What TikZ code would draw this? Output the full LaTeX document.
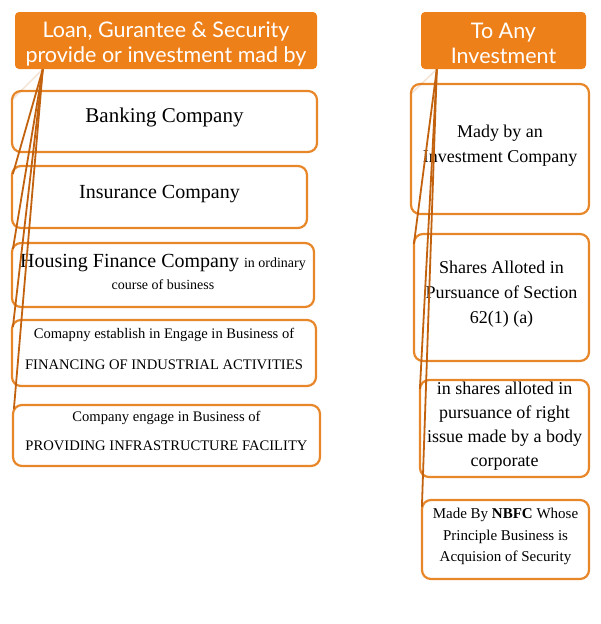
\documentclass[tikz,border=0pt]{standalone}
\usepackage{fontspec}
\setmainfont{Liberation Serif}
\newfontfamily\headfont{Lato}
\usetikzlibrary{calc}
\definecolor{hdr}{HTML}{EE8019}
\definecolor{bord}{HTML}{E8862A}
\definecolor{conn}{HTML}{C2620E}
\newcommand\lowstrut[1]{\rule[-#1]{0pt}{#1}}
\newcommand\highstrut[1]{\rule{0pt}{#1}}
\begin{document}
\begin{tikzpicture}[x=1pt,y=-1pt,
  hdrbox/.style={fill=hdr, rounded corners=4pt, text=white, font=\headfont\fontsize{21.5}{25}\selectfont, align=center, inner sep=0pt},
  itembox/.style={draw=bord, line width=2.2pt, rounded corners=9pt, fill=white, align=center, inner sep=0pt},
  conn/.style={draw=conn, line width=1.8pt},
  faint/.style={draw=conn, line width=1.5pt, opacity=0.18}]
\useasboundingbox (0,0) rectangle (600,624);

% left column
\node[hdrbox, minimum width=302pt, minimum height=57pt] (h1) at (166,40.5)
  {\highstrut{22pt}Loan, Gurantee \& Security\\provide or investment mad by};
\node[itembox, minimum width=305pt, minimum height=61pt, font=\fontsize{21}{25}\selectfont] (b1) at (164.5,121.5)
  {Banking Company\lowstrut{12pt}};
\node[itembox, minimum width=295pt, minimum height=62pt, font=\fontsize{20}{24}\selectfont] (b2) at (159.5,197)
  {Insurance Company\lowstrut{10pt}};
\node[itembox, minimum width=302pt, minimum height=64pt, font=\fontsize{20}{24}\selectfont] (b3) at (163,275)
  {Housing Finance Company {\fontsize{14}{17}\selectfont in ordinary}\\[-2pt]{\fontsize{14}{17}\selectfont course of business}\lowstrut{7pt}};
\node[itembox, minimum width=304pt, minimum height=66pt, font=\fontsize{14.6}{31}\selectfont] (b4) at (164,353)
  {Comapny establish in Engage in Business of\\FINANCING OF INDUSTRIAL ACTIVITIES\lowstrut{8pt}};
\node[itembox, minimum width=307pt, minimum height=61pt, font=\fontsize{14.6}{29}\selectfont] (b5) at (166.5,435.5)
  {Company engage in Business of\\PROVIDING INFRASTRUCTURE FACILITY\lowstrut{9pt}};

% right column
\node[hdrbox, minimum width=165pt, minimum height=57pt] (h2) at (503.5,40.5)
  {\highstrut{22pt}To Any\\Investment};
\node[itembox, minimum width=178pt, minimum height=130pt, font=\fontsize{18}{25}\selectfont] (r1) at (500,149)
  {Mady by an\\Investment Company\lowstrut{10pt}};
\node[itembox, minimum width=175pt, minimum height=127pt, font=\fontsize{18}{25}\selectfont] (r2) at (501.5,297.5)
  {Shares Alloted in\\Pursuance of Section\\62(1) (a)\lowstrut{10pt}};
\node[itembox, minimum width=169pt, minimum height=97pt, font=\fontsize{18}{24}\selectfont] (r3) at (504.5,428.5)
  {in shares alloted in\\pursuance of right\\issue made by a body\\corporate\lowstrut{8pt}};
\node[itembox, minimum width=167pt, minimum height=79pt, font=\fontsize{15}{21.5}\selectfont] (r4) at (505.5,539.5)
  {Made By \textbf{NBFC} Whose\\Principle Business is\\Acquision of Security\lowstrut{9pt}};

% connectors
\coordinate (h1p) at ($(h1.south west)+(28,0)$);
\coordinate (h2p) at ($(h2.south west)+(16,0)$);
\draw[faint] (h1p) -- ($(b1.north west)+(2,9)$);
\draw[conn] (h1p) -- ($(b2.north west)+(2,9)$);
\draw[conn] (h1p) -- ($(b3.north west)+(2,7)$);
\draw[conn] (h1p) -- ($(b4.north west)+(2,8)$);
\draw[conn] (h1p) -- ($(b5.north west)+(2,5)$);
\draw[faint] (h2p) -- ($(r1.north west)+(1,11)$);
\draw[conn] (h2p) -- ($(r2.north west)+(1,11)$);
\draw[conn] (h2p) -- ($(r3.north west)+(1,10)$);
\draw[conn] (h2p) -- ($(r4.north west)+(1,8)$);
\end{tikzpicture}
\end{document}
